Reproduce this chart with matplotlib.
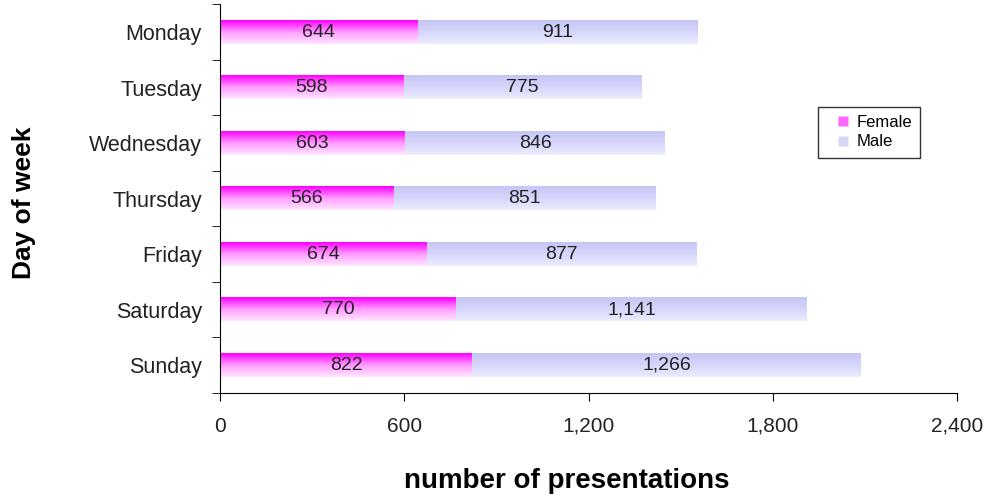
import matplotlib
matplotlib.use('Agg')
import matplotlib.pyplot as plt
import numpy as np
from matplotlib.colors import LinearSegmentedColormap
from matplotlib.lines import Line2D

days = ['Monday', 'Tuesday', 'Wednesday', 'Thursday', 'Friday', 'Saturday', 'Sunday']
female = [644, 598, 603, 566, 674, 770, 822]
male = [911, 775, 846, 851, 877, 1141, 1266]
xticks = [0, 600, 1200, 1800, 2400]

plt.rcParams['font.family'] = ['Liberation Sans', 'DejaVu Sans']

fem_cmap = LinearSegmentedColormap.from_list('fem', ['#ffe6ff', '#ff9cff', '#ff00ff'])
male_cmap = LinearSegmentedColormap.from_list('male', ['#ececff', '#d6d6fb', '#c6c6f6'])
grad = np.linspace(0, 1, 64).reshape(-1, 1)

fig = plt.figure(figsize=(9.85, 4.96), dpi=100)
ax = fig.add_axes([0.2234, 0.2077, 0.7482, 0.7833])

h = 0.42
ypos = np.arange(len(days))[::-1]
for y, f, m in zip(ypos, female, male):
    ax.imshow(grad, extent=[0, f, y - h / 2, y + h / 2], origin='lower',
              aspect='auto', cmap=fem_cmap, interpolation='bilinear')
    ax.imshow(grad, extent=[f, f + m, y - h / 2, y + h / 2], origin='lower',
              aspect='auto', cmap=male_cmap, interpolation='bilinear')
    ax.text(f / 2, y, f'{f:,}', ha='center', va='center', fontsize=14, color='#222222')
    ax.text(f + m / 2, y, f'{m:,}', ha='center', va='center', fontsize=14, color='#222222')

ax.set_xlim(0, 2400)
ax.set_ylim(-0.5, len(days) - 0.5)
ax.set_xticks(xticks)
ax.set_xticklabels([f'{v:,}' for v in xticks], fontsize=15, color='#222222')
ax.set_yticks(ypos)
ax.set_yticklabels(days, fontsize=15.5, color='#222222')
ax.set_yticks(np.arange(-0.5, len(days), 1), minor=True)
ax.tick_params(axis='y', which='major', length=0, pad=13)
ax.tick_params(axis='y', which='minor', length=6, direction='out')
ax.tick_params(axis='x', length=6, direction='out', pad=11)
for s in ['top', 'right']:
    ax.spines[s].set_visible(False)

ax.set_xlabel('number of presentations', fontsize=20, fontweight='bold', va='center')
ax.xaxis.set_label_coords(0.471, -0.2265)
ax.set_ylabel('Day of week', fontsize=19, fontweight='bold', va='center')
ax.yaxis.set_label_coords(-0.266, 0.49)

handles = [Line2D([], [], ls='none', marker='s', ms=7, mfc='#ff66ff', mec='none', label='Female'),
           Line2D([], [], ls='none', marker='s', ms=7, mfc='#d6d6fb', mec='none', label='Male')]
leg = ax.legend(handles=handles, loc='upper left', bbox_to_anchor=(818 / 985, 1 - 107 / 496),
                bbox_transform=fig.transFigure, fontsize=12, fancybox=False, numpoints=1,
                edgecolor='black', handlelength=2.0, handletextpad=-0.2,
                borderpad=0.5, labelspacing=0.25, borderaxespad=0)
leg.get_frame().set_linewidth(1)

fig.savefig('out.png', dpi=100)
